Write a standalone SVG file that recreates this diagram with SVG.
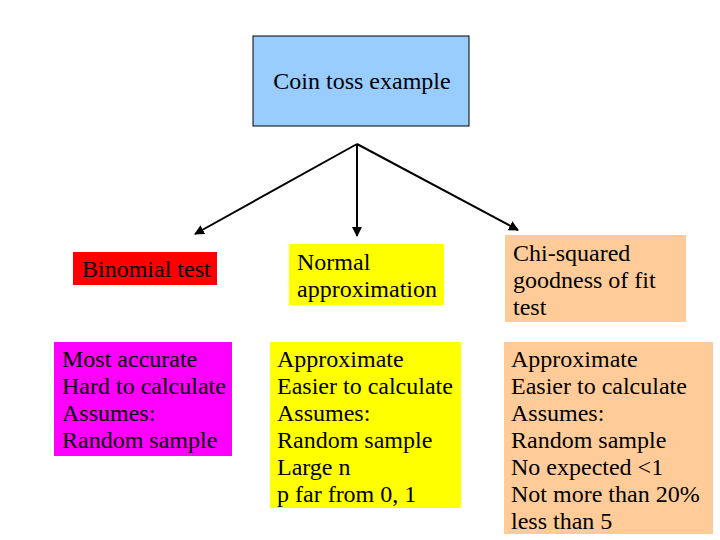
<svg xmlns="http://www.w3.org/2000/svg" width="720" height="540" viewBox="0 0 720 540">
<defs>
<style>
.t text{font-size:24px;fill:#000}
.c{stroke:#000;stroke-width:2;fill:none;marker-end:url(#ah)}
</style>
<marker id="ah" viewBox="0 0 10 10" refX="9" refY="5" markerWidth="5" markerHeight="5" orient="auto" markerUnits="strokeWidth">
<path d="M0,0 L10,5 L0,10 z" fill="#000"/>
</marker>
</defs>
<rect width="720" height="540" fill="#fff"/>
<g class="t" font-family="Liberation Serif, Tinos, Times New Roman, DejaVu Serif, serif">
<g id="coin">
<rect x="253" y="36" width="216" height="90" fill="#99ccff" stroke="#000" stroke-width="1"/>
<text x="362" y="89" text-anchor="middle">Coin toss example</text>
</g>
<g id="binomial">
<rect x="73" y="252" width="144" height="33" fill="#ff0000"/>
<text x="82" y="277">Binomial test</text>
</g>
<g id="binomial-notes">
<rect x="54" y="342" width="178" height="114" fill="#ff00ff"/>
<text x="62" y="367">Most accurate</text>
<text x="62" y="394">Hard to calculate</text>
<text x="62" y="421">Assumes:</text>
<text x="62" y="448">Random sample</text>
</g>
<g id="normal">
<rect x="289" y="244" width="155" height="61" fill="#ffff00"/>
<text x="297" y="270">Normal</text>
<text x="297" y="297">approximation</text>
</g>
<g id="normal-notes">
<rect x="270" y="342" width="191" height="166" fill="#ffff00"/>
<text x="277" y="367">Approximate</text>
<text x="277" y="394">Easier to calculate</text>
<text x="277" y="421">Assumes:</text>
<text x="277" y="448">Random sample</text>
<text x="277" y="475">Large n</text>
<text x="277" y="502">p far from 0, 1</text>
</g>
<g id="chi">
<rect x="505" y="235" width="181" height="87" fill="#ffcc99"/>
<text x="513" y="261">Chi-squared</text>
<text x="513" y="288">goodness of fit</text>
<text x="513" y="315">test</text>
</g>
<g id="chi-notes">
<rect x="504" y="342" width="209" height="192" fill="#ffcc99"/>
<text x="511" y="367">Approximate</text>
<text x="511" y="394">Easier to calculate</text>
<text x="511" y="421">Assumes:</text>
<text x="511" y="448">Random sample</text>
<text x="511" y="475">No expected &lt;1</text>
<text x="511" y="502">Not more than 20%</text>
<text x="511" y="529">less than 5</text>
</g>
</g>
<g id="connectors">
<line class="c" x1="357" y1="144" x2="195" y2="234"/>
<line class="c" x1="357" y1="144" x2="357" y2="236"/>
<line class="c" x1="357" y1="144" x2="518" y2="230"/>
</g>
</svg>
